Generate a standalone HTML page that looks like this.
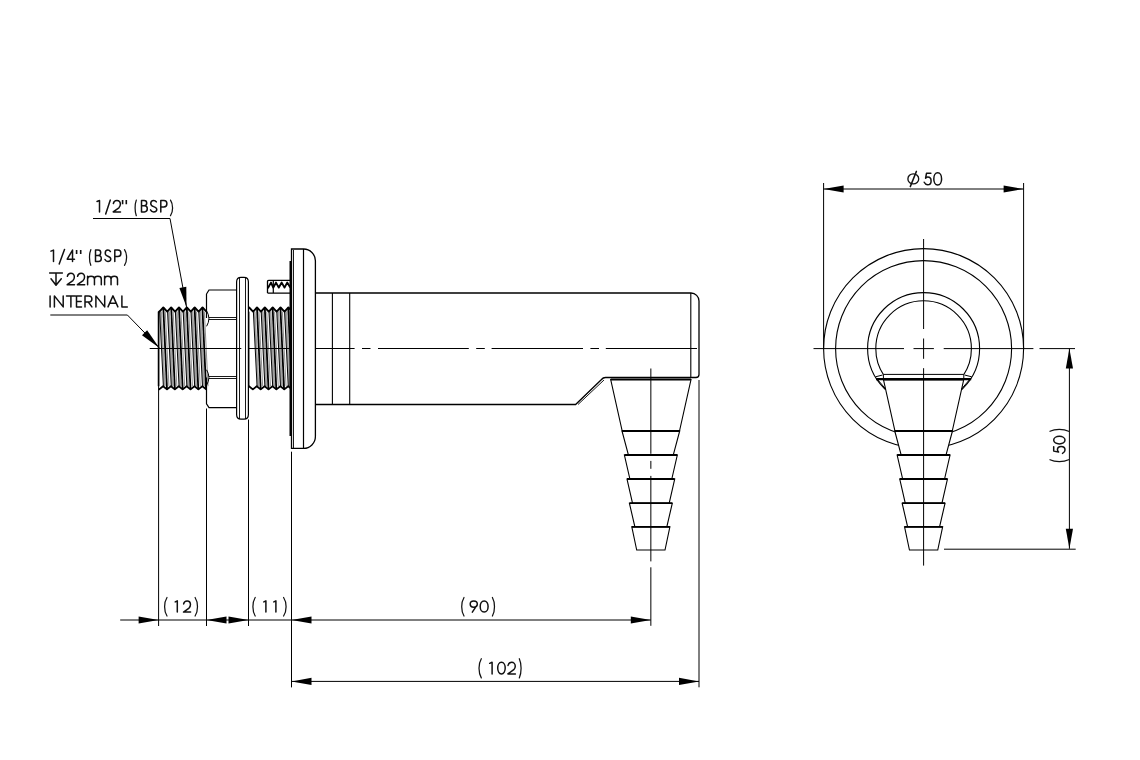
<!DOCTYPE html>
<html><head><meta charset="utf-8"><style>
html,body{margin:0;padding:0;background:#fff;width:1140px;height:760px;overflow:hidden}
svg{display:block}
text{font-family:"Liberation Sans",sans-serif;fill:#111}
</style></head><body>
<svg width="1140" height="760" viewBox="0 0 1140 760">
<line x1="362" y1="348.5" x2="370.5" y2="348.5" stroke="#000" stroke-width="1" />
<line x1="378" y1="348.5" x2="468.8" y2="348.5" stroke="#000" stroke-width="1" />
<line x1="476.2" y1="348.5" x2="484.8" y2="348.5" stroke="#000" stroke-width="1" />
<line x1="491.6" y1="348.5" x2="583" y2="348.5" stroke="#000" stroke-width="1" />
<line x1="590.4" y1="348.5" x2="599" y2="348.5" stroke="#000" stroke-width="1" />
<line x1="605.8" y1="348.5" x2="697" y2="348.5" stroke="#000" stroke-width="1" />
<path d="M160.00,311.6 L163.70,386.2 L165.59,386.2 L161.89,311.6 Z" fill="#a0a0a0"/>
<path d="M167.85,311.6 L171.55,386.2 L173.44,386.2 L169.74,311.6 Z" fill="#a0a0a0"/>
<path d="M167.90,311.6 L171.60,386.2 L173.49,386.2 L169.79,311.6 Z" fill="#a0a0a0"/>
<path d="M175.75,311.6 L179.45,386.2 L181.34,386.2 L177.64,311.6 Z" fill="#a0a0a0"/>
<path d="M175.70,311.6 L179.40,386.2 L181.29,386.2 L177.59,311.6 Z" fill="#a0a0a0"/>
<path d="M183.55,311.6 L187.25,386.2 L189.14,386.2 L185.44,311.6 Z" fill="#a0a0a0"/>
<path d="M183.50,311.6 L187.20,386.2 L189.09,386.2 L185.39,311.6 Z" fill="#a0a0a0"/>
<path d="M191.35,311.6 L195.05,386.2 L196.94,386.2 L193.24,311.6 Z" fill="#a0a0a0"/>
<path d="M191.30,311.6 L195.00,386.2 L196.89,386.2 L193.19,311.6 Z" fill="#a0a0a0"/>
<path d="M199.15,311.6 L202.85,386.2 L204.74,386.2 L201.04,311.6 Z" fill="#a0a0a0"/>
<path d="M199.10,311.6 L202.80,386.2 L204.69,386.2 L200.99,311.6 Z" fill="#a0a0a0"/>
<path d="M158.60,310.79 L159.38,311.60 L163.30,307.50 L167.23,311.60 L171.15,307.50 L175.08,311.60 L179.00,307.50 L182.93,311.60 L186.85,307.50 L190.78,311.60 L194.70,307.50 L198.63,311.60 L202.55,307.50 L206.48,311.60 L206.50,311.57" stroke="#000" stroke-width="1.9" fill="none" stroke-linejoin="round"/>
<path d="M158.60,388.95 L159.15,389.40 L163.08,386.20 L167.00,389.40 L170.93,386.20 L174.85,389.40 L178.78,386.20 L182.70,389.40 L186.62,386.20 L190.55,389.40 L194.48,386.20 L198.40,389.40 L202.33,386.20 L206.25,389.40 L206.50,389.20" stroke="#000" stroke-width="1.8" fill="none" stroke-linejoin="round"/>
<line x1="163.30" y1="307.5" x2="167.00" y2="389.4" stroke="#000" stroke-width="1.8" />
<line x1="159.68" y1="311.6" x2="163.38" y2="386.2" stroke="#000" stroke-width="1.0" />
<line x1="165.26" y1="311.6" x2="168.96" y2="386.2" stroke="#444" stroke-width="0.6" />
<line x1="171.20" y1="307.5" x2="174.90" y2="389.4" stroke="#000" stroke-width="1.8" />
<line x1="167.57" y1="311.6" x2="171.27" y2="386.2" stroke="#000" stroke-width="1.0" />
<line x1="173.16" y1="311.6" x2="176.86" y2="386.2" stroke="#444" stroke-width="0.6" />
<line x1="179.00" y1="307.5" x2="182.70" y2="389.4" stroke="#000" stroke-width="1.8" />
<line x1="175.38" y1="311.6" x2="179.07" y2="386.2" stroke="#000" stroke-width="1.0" />
<line x1="180.96" y1="311.6" x2="184.66" y2="386.2" stroke="#444" stroke-width="0.6" />
<line x1="186.80" y1="307.5" x2="190.50" y2="389.4" stroke="#000" stroke-width="1.8" />
<line x1="183.18" y1="311.6" x2="186.88" y2="386.2" stroke="#000" stroke-width="1.0" />
<line x1="188.76" y1="311.6" x2="192.46" y2="386.2" stroke="#444" stroke-width="0.6" />
<line x1="194.60" y1="307.5" x2="198.30" y2="389.4" stroke="#000" stroke-width="1.8" />
<line x1="190.97" y1="311.6" x2="194.67" y2="386.2" stroke="#000" stroke-width="1.0" />
<line x1="196.56" y1="311.6" x2="200.26" y2="386.2" stroke="#444" stroke-width="0.6" />
<line x1="202.40" y1="307.5" x2="206.10" y2="389.4" stroke="#000" stroke-width="1.8" />
<line x1="198.78" y1="311.6" x2="202.47" y2="386.2" stroke="#000" stroke-width="1.0" />
<line x1="204.36" y1="311.6" x2="208.06" y2="386.2" stroke="#444" stroke-width="0.6" />
<line x1="158.6" y1="311.6" x2="158.6" y2="386.2" stroke="#000" stroke-width="1.7" />
<path d="M253.70,311.6 L257.40,386.2 L259.29,386.2 L255.59,311.6 Z" fill="#a0a0a0"/>
<path d="M261.55,311.6 L265.25,386.2 L267.14,386.2 L263.44,311.6 Z" fill="#a0a0a0"/>
<path d="M261.50,311.6 L265.20,386.2 L267.09,386.2 L263.39,311.6 Z" fill="#a0a0a0"/>
<path d="M269.35,311.6 L273.05,386.2 L274.94,386.2 L271.24,311.6 Z" fill="#a0a0a0"/>
<path d="M269.30,311.6 L273.00,386.2 L274.89,386.2 L271.19,311.6 Z" fill="#a0a0a0"/>
<path d="M277.15,311.6 L280.85,386.2 L282.74,386.2 L279.04,311.6 Z" fill="#a0a0a0"/>
<path d="M277.10,311.6 L280.80,386.2 L282.69,386.2 L278.99,311.6 Z" fill="#a0a0a0"/>
<path d="M284.95,311.6 L288.65,386.2 L290.54,386.2 L286.84,311.6 Z" fill="#a0a0a0"/>
<path d="M284.90,311.6 L288.60,386.2 L290.49,386.2 L286.79,311.6 Z" fill="#a0a0a0"/>
<path d="M248.60,308.07 L249.15,307.50 L253.08,311.60 L257.00,307.50 L260.93,311.60 L264.85,307.50 L268.78,311.60 L272.70,307.50 L276.62,311.60 L280.55,307.50 L284.48,311.60 L288.40,307.50 L290.50,309.69" stroke="#000" stroke-width="1.9" fill="none" stroke-linejoin="round"/>
<path d="M248.60,386.46 L248.93,386.20 L252.85,389.40 L256.77,386.20 L260.70,389.40 L264.62,386.20 L268.55,389.40 L272.48,386.20 L276.40,389.40 L280.32,386.20 L284.25,389.40 L288.18,386.20 L290.50,388.10" stroke="#000" stroke-width="1.8" fill="none" stroke-linejoin="round"/>
<line x1="257.00" y1="307.5" x2="260.70" y2="389.4" stroke="#000" stroke-width="1.8" />
<line x1="253.38" y1="311.6" x2="257.07" y2="386.2" stroke="#000" stroke-width="1.0" />
<line x1="258.96" y1="311.6" x2="262.66" y2="386.2" stroke="#444" stroke-width="0.6" />
<line x1="264.80" y1="307.5" x2="268.50" y2="389.4" stroke="#000" stroke-width="1.8" />
<line x1="261.18" y1="311.6" x2="264.88" y2="386.2" stroke="#000" stroke-width="1.0" />
<line x1="266.76" y1="311.6" x2="270.46" y2="386.2" stroke="#444" stroke-width="0.6" />
<line x1="272.60" y1="307.5" x2="276.30" y2="389.4" stroke="#000" stroke-width="1.8" />
<line x1="268.98" y1="311.6" x2="272.68" y2="386.2" stroke="#000" stroke-width="1.0" />
<line x1="274.56" y1="311.6" x2="278.26" y2="386.2" stroke="#444" stroke-width="0.6" />
<line x1="280.40" y1="307.5" x2="284.10" y2="389.4" stroke="#000" stroke-width="1.8" />
<line x1="276.77" y1="311.6" x2="280.47" y2="386.2" stroke="#000" stroke-width="1.0" />
<line x1="282.36" y1="311.6" x2="286.06" y2="386.2" stroke="#444" stroke-width="0.6" />
<line x1="288.20" y1="307.5" x2="291.90" y2="389.4" stroke="#000" stroke-width="1.8" />
<line x1="284.57" y1="311.6" x2="288.27" y2="386.2" stroke="#000" stroke-width="1.0" />
<line x1="290.16" y1="311.6" x2="293.86" y2="386.2" stroke="#444" stroke-width="0.6" />
<line x1="248.6" y1="311.6" x2="248.6" y2="386.2" stroke="#000" stroke-width="1.7" />
<line x1="149.7" y1="348.5" x2="241.3" y2="348.5" stroke="#000" stroke-width="1" />
<line x1="248.5" y1="348.5" x2="354.6" y2="348.5" stroke="#000" stroke-width="1" />
<path d="M206.5,294 L209,290 L236.5,290 M206.5,294 L206.5,318 M206.5,377.5 L206.5,403.7 L209,407.6 L236.5,407.6" stroke="#000" stroke-width="1.2" fill="none" />
<line x1="209" y1="317.5" x2="236.5" y2="317.5" stroke="#000" stroke-width="0.9" />
<line x1="209" y1="319.5" x2="236.5" y2="319.5" stroke="#000" stroke-width="0.9" />
<line x1="209" y1="376.5" x2="236.5" y2="376.5" stroke="#000" stroke-width="0.9" />
<line x1="209" y1="378.5" x2="236.5" y2="378.5" stroke="#000" stroke-width="0.9" />
<path d="M206.6,310.9 Q211.2,318.5 206.6,326.3 M206.6,369.8 Q211.2,377.5 206.6,385.2" stroke="#000" stroke-width="1.0" fill="none" />
<path d="M236.6,414.5 L236.6,282 Q236.6,277.3 241,277.3 L244,277.3 Q248.4,277.3 248.4,282 L248.4,414.5 Q248.4,419.2 244,419.2 L241,419.2 Q236.6,419.2 236.6,414.5 Z" stroke="#000" stroke-width="1.2" fill="#fff" />
<line x1="239.5" y1="277.3" x2="239.5" y2="419.1" stroke="#000" stroke-width="0.9" />
<line x1="245.5" y1="277.3" x2="245.5" y2="419.1" stroke="#000" stroke-width="0.9" />
<line x1="236.6" y1="348.5" x2="241.3" y2="348.5" stroke="#000" stroke-width="1" />
<path d="M267.5,293.1 L267.5,281.2 Q267.6,280.3 269,280.3 L290.5,280.3 M267.5,293.1 L290.5,293.1" stroke="#000" stroke-width="1.3" fill="none" />
<line x1="273.3" y1="280.5" x2="273.3" y2="293.1" stroke="#000" stroke-width="1.2" />
<path d="M267.8,288.2 L271,282.6 L273.3,287.6 L276,282.6 L278.8,287.6 L281.7,282.6 L284.5,287.6 L287.2,282.6 L290.3,287.5" stroke="#000" stroke-width="1.9" fill="none" stroke-linejoin="round"/>
<path d="M291.5,448.4 L291.5,249 L303.5,249 A11.8,11.8 0 0 1 315.4,260.8 L315.4,436.6 A11.8,11.8 0 0 1 303.5,448.4 Z" stroke="#000" stroke-width="1.3" fill="#fff" />
<line x1="293.5" y1="250" x2="293.5" y2="448" stroke="#000" stroke-width="0.9" />
<line x1="303.5" y1="249" x2="303.5" y2="448.4" stroke="#000" stroke-width="1.2" />
<line x1="290.3" y1="261" x2="290.3" y2="436" stroke="#000" stroke-width="1.6" />
<path d="M315.4,293 L691,293 A8,8 0 0 1 699,301 L699,374.5 A3,3 0 0 1 696,377.5 L605.5,377.5 Q603,377.5 601.5,379.5 L575.6,404.5 L315.4,404.5" stroke="#000" stroke-width="1.3" fill="none" />
<path d="M604,380 L578,404.5" stroke="#000" stroke-width="0.9" fill="none" />
<line x1="332.4" y1="293" x2="332.4" y2="404.5" stroke="#000" stroke-width="1.1" />
<line x1="349.7" y1="293" x2="349.7" y2="404.5" stroke="#000" stroke-width="1.1" />
<line x1="690.8" y1="293" x2="690.8" y2="377.5" stroke="#000" stroke-width="1.1" />
<path d="M610.70,379.5 L691.00,379.5 L679.50,431.0 L622.20,431.0 Z" stroke="#000" stroke-width="1.1" fill="#fff" />
<path d="M622.00,431.0 L679.70,431.0 L673.30,455.0 L628.40,455.0 Z" stroke="#000" stroke-width="1.1" fill="#fff" />
<path d="M624.40,455.0 L677.30,455.0 L671.80,479.0 L629.90,479.0 Z" stroke="#000" stroke-width="1.1" fill="#fff" />
<path d="M627.00,479.0 L674.70,479.0 L669.20,503.2 L632.50,503.2 Z" stroke="#000" stroke-width="1.1" fill="#fff" />
<path d="M629.40,503.2 L672.30,503.2 L666.80,526.9 L634.90,526.9 Z" stroke="#000" stroke-width="1.1" fill="#fff" />
<path d="M631.80,526.9 L669.90,526.9 L665.00,550.0 L636.70,550.0 Z" stroke="#000" stroke-width="1.1" fill="#fff" />
<line x1="622.00" y1="431.0" x2="679.70" y2="431.0" stroke="#000" stroke-width="2.0" />
<line x1="624.40" y1="455.0" x2="677.30" y2="455.0" stroke="#000" stroke-width="2.0" />
<line x1="627.00" y1="479.0" x2="674.70" y2="479.0" stroke="#000" stroke-width="2.0" />
<line x1="629.40" y1="503.2" x2="672.30" y2="503.2" stroke="#000" stroke-width="1.8" />
<line x1="631.80" y1="526.9" x2="669.90" y2="526.9" stroke="#000" stroke-width="1.8" />
<line x1="610.7" y1="379.6" x2="691.0" y2="379.6" stroke="#000" stroke-width="2.0" />
<line x1="650.85" y1="368.5" x2="650.85" y2="453.8" stroke="#000" stroke-width="1" />
<line x1="650.85" y1="460.9" x2="650.85" y2="468.8" stroke="#000" stroke-width="1" />
<line x1="650.85" y1="475.9" x2="650.85" y2="561.4" stroke="#000" stroke-width="1" />
<line x1="650.85" y1="567.3" x2="650.85" y2="625.8" stroke="#000" stroke-width="1" />
<line x1="158.6" y1="386" x2="158.6" y2="626" stroke="#000" stroke-width="1" />
<line x1="206.5" y1="408.5" x2="206.5" y2="626" stroke="#000" stroke-width="1" />
<line x1="248.5" y1="419.5" x2="248.5" y2="626" stroke="#000" stroke-width="1" />
<line x1="291.5" y1="451.7" x2="291.5" y2="687.4" stroke="#000" stroke-width="1" />
<line x1="699" y1="380" x2="699" y2="687.3" stroke="#000" stroke-width="1" />
<line x1="120.2" y1="620" x2="650.8" y2="620" stroke="#000" stroke-width="1" />
<path d="M158.60,620.00 L138.60,623.60 L138.60,616.40 Z" fill="#000"/>
<path d="M206.50,620.00 L226.50,616.40 L226.50,623.60 Z" fill="#000"/>
<path d="M248.50,620.00 L228.50,623.60 L228.50,616.40 Z" fill="#000"/>
<path d="M291.50,620.00 L311.50,616.40 L311.50,623.60 Z" fill="#000"/>
<path d="M650.80,620.00 L630.80,623.60 L630.80,616.40 Z" fill="#000"/>
<line x1="291.5" y1="681.4" x2="699" y2="681.4" stroke="#000" stroke-width="1" />
<path d="M291.50,681.40 L311.50,677.80 L311.50,685.00 Z" fill="#000"/>
<path d="M699.00,681.40 L679.00,685.00 L679.00,677.80 Z" fill="#000"/>
<line x1="93" y1="218.5" x2="170" y2="218.5" stroke="#000" stroke-width="1" />
<line x1="170" y1="218.5" x2="186.5" y2="307" stroke="#000" stroke-width="1" />
<path d="M186.50,307.00 L179.41,287.97 L186.30,286.70 Z" fill="#000"/>
<line x1="50.3" y1="315" x2="127.4" y2="315" stroke="#000" stroke-width="1" />
<line x1="127.4" y1="315" x2="159.2" y2="347.7" stroke="#000" stroke-width="1" />
<path d="M159.20,347.70 L141.98,335.15 L147.14,330.14 Z" fill="#000"/>
<defs><clipPath id="c56"><rect x="800" y="200" width="250" height="190"/></clipPath><clipPath id="c47"><rect x="800" y="200" width="250" height="174.4"/></clipPath></defs>
<circle cx="923.6" cy="348.6" r="100" stroke="#000" stroke-width="1.1" fill="none"/>
<circle cx="923.6" cy="348.6" r="88" stroke="#000" stroke-width="1.1" fill="none"/>
<circle cx="923.6" cy="348.6" r="56" stroke="#000" stroke-width="1.1" fill="none" clip-path="url(#c56)"/>
<circle cx="923.6" cy="348.6" r="47.8" stroke="#000" stroke-width="1.1" fill="none" clip-path="url(#c47)"/>
<path d="M883.45,379.5 L963.75,379.5 L952.25,431.0 L894.95,431.0 Z" stroke="#000" stroke-width="1.1" fill="#fff" />
<path d="M894.75,431.0 L952.45,431.0 L946.05,455.0 L901.15,455.0 Z" stroke="#000" stroke-width="1.1" fill="#fff" />
<path d="M897.15,455.0 L950.05,455.0 L944.55,479.0 L902.65,479.0 Z" stroke="#000" stroke-width="1.1" fill="#fff" />
<path d="M899.75,479.0 L947.45,479.0 L941.95,503.2 L905.25,503.2 Z" stroke="#000" stroke-width="1.1" fill="#fff" />
<path d="M902.15,503.2 L945.05,503.2 L939.55,526.9 L907.65,526.9 Z" stroke="#000" stroke-width="1.1" fill="#fff" />
<path d="M904.55,526.9 L942.65,526.9 L937.75,550.0 L909.45,550.0 Z" stroke="#000" stroke-width="1.1" fill="#fff" />
<line x1="894.75" y1="431.0" x2="952.45" y2="431.0" stroke="#000" stroke-width="2.0" />
<line x1="897.15" y1="455.0" x2="950.05" y2="455.0" stroke="#000" stroke-width="2.0" />
<line x1="899.75" y1="479.0" x2="947.45" y2="479.0" stroke="#000" stroke-width="2.0" />
<line x1="902.15" y1="503.2" x2="945.05" y2="503.2" stroke="#000" stroke-width="1.8" />
<line x1="904.55" y1="526.9" x2="942.65" y2="526.9" stroke="#000" stroke-width="1.8" />
<line x1="883.45" y1="379.6" x2="963.75" y2="379.6" stroke="#000" stroke-width="2.0" />
<line x1="883.4" y1="374.4" x2="963.8" y2="374.4" stroke="#000" stroke-width="1.0" />
<line x1="883.4" y1="374.4" x2="883.4" y2="379.2" stroke="#000" stroke-width="1.0" />
<line x1="963.8" y1="374.4" x2="963.8" y2="379.2" stroke="#000" stroke-width="1.0" />
<line x1="876" y1="379.2" x2="971.2" y2="379.2" stroke="#000" stroke-width="2.2" />
<path d="M875.5,376.8 L882.6,375 M876.5,378.3 L885.6,388.9 M971.7,376.8 L964.6,375 M970.7,378.3 L961.6,388.9" stroke="#000" stroke-width="1.0" fill="none" />
<line x1="813.5" y1="348.6" x2="904" y2="348.6" stroke="#000" stroke-width="1" />
<line x1="913.5" y1="348.6" x2="933.9" y2="348.6" stroke="#000" stroke-width="1" />
<line x1="943.7" y1="348.6" x2="1033.4" y2="348.6" stroke="#000" stroke-width="1" />
<line x1="1039.5" y1="348.6" x2="1075" y2="348.6" stroke="#000" stroke-width="1" />
<line x1="923.6" y1="239" x2="923.6" y2="329" stroke="#000" stroke-width="1" />
<line x1="923.6" y1="338.5" x2="923.6" y2="358.8" stroke="#000" stroke-width="1" />
<line x1="923.6" y1="368.2" x2="923.6" y2="565.6" stroke="#000" stroke-width="1" />
<line x1="823.6" y1="183" x2="823.6" y2="348.6" stroke="#000" stroke-width="1" />
<line x1="1023.6" y1="183" x2="1023.6" y2="348.6" stroke="#000" stroke-width="1" />
<line x1="823.6" y1="189" x2="1023.6" y2="189" stroke="#000" stroke-width="1" />
<path d="M823.60,189.00 L843.60,185.40 L843.60,192.60 Z" fill="#000"/>
<path d="M1023.60,189.00 L1003.60,192.60 L1003.60,185.40 Z" fill="#000"/>
<line x1="1069.4" y1="348.6" x2="1069.4" y2="548.8" stroke="#000" stroke-width="1" />
<path d="M1069.40,348.60 L1073.00,368.60 L1065.80,368.60 Z" fill="#000"/>
<path d="M1069.40,548.80 L1065.80,528.80 L1073.00,528.80 Z" fill="#000"/>
<line x1="944" y1="549.2" x2="1075.7" y2="549.2" stroke="#000" stroke-width="1" />
<path d="M 122.60,200.10 L 122.60,204.23 M 126.30,200.10 L 126.30,204.23" stroke="#111" stroke-width="1.6" fill="none" />
<path d="M 97.00,201.53 L 99.50,200.50 L 99.50,211.90 M 105.70,214.10 L 110.30,200.10 M 113.35,203.58 C 113.78,201.41 115.24,200.50 116.85,200.50 C 118.89,200.50 120.35,202.21 120.35,204.26 C 120.35,205.86 119.77,206.88 118.89,207.80 L 113.20,211.90 L 120.50,211.90 M 141.50,200.50 L 141.50,211.90 L 144.40,211.90 C 146.26,211.90 147.30,210.53 147.30,208.82 C 147.30,207.11 146.26,205.86 144.40,205.86 L 141.50,205.86 M 144.11,205.86 C 145.68,205.86 146.72,204.72 146.72,203.12 C 146.72,201.53 145.68,200.50 144.11,200.50 L 141.50,200.50 M 156.36,201.98 C 155.73,200.96 154.78,200.50 153.65,200.50 C 152.01,200.50 150.75,201.87 150.75,203.58 C 150.75,205.63 152.26,206.20 153.65,206.66 C 155.41,207.23 156.80,208.02 156.80,209.51 C 156.80,211.10 155.41,211.90 153.65,211.90 C 152.26,211.90 151.13,211.10 150.50,209.85 M 160.80,211.90 L 160.80,200.50 L 163.85,200.50 C 165.80,200.50 166.90,201.98 166.90,203.69 C 166.90,205.52 165.80,206.88 163.85,206.88 L 160.80,206.88" stroke="#111" stroke-width="1.5" fill="none" stroke-linecap="round" stroke-linejoin="round" />
<path d="M 136.30,200.10 C 134.70,204.31 134.70,211.49 136.30,215.70 M 170.50,200.10 C 173.29,204.31 173.29,211.49 170.50,215.70" stroke="#111" stroke-width="1.25" fill="none" stroke-linecap="round" />
<path d="M 76.60,250.00 L 76.60,254.03 M 80.70,250.00 L 80.70,254.03" stroke="#111" stroke-width="1.6" fill="none" />
<path d="M 51.00,251.13 L 53.50,250.10 L 53.50,261.50 M 59.20,264.00 L 64.50,249.40 M 72.53,261.50 L 72.53,250.10 L 67.20,259.22 L 74.50,259.22 M 95.50,250.10 L 95.50,261.50 L 98.40,261.50 C 100.26,261.50 101.30,260.13 101.30,258.42 C 101.30,256.71 100.26,255.46 98.40,255.46 L 95.50,255.46 M 98.11,255.46 C 99.68,255.46 100.72,254.32 100.72,252.72 C 100.72,251.13 99.68,250.10 98.11,250.10 L 95.50,250.10 M 110.39,251.58 C 109.81,250.56 108.94,250.10 107.90,250.10 C 106.39,250.10 105.23,251.47 105.23,253.18 C 105.23,255.23 106.62,255.80 107.90,256.26 C 109.52,256.83 110.80,257.62 110.80,259.11 C 110.80,260.70 109.52,261.50 107.90,261.50 C 106.62,261.50 105.58,260.70 105.00,259.45 M 114.80,261.50 L 114.80,250.10 L 117.85,250.10 C 119.80,250.10 120.90,251.58 120.90,253.29 C 120.90,255.12 119.80,256.48 117.85,256.48 L 114.80,256.48" stroke="#111" stroke-width="1.5" fill="none" stroke-linecap="round" stroke-linejoin="round" />
<path d="M 90.80,249.70 C 89.07,253.91 89.07,261.09 90.80,265.30 M 124.50,249.70 C 127.29,253.91 127.29,261.09 124.50,265.30" stroke="#111" stroke-width="1.25" fill="none" stroke-linecap="round" />
<path d="M 67.35,276.31 C 67.78,274.12 69.24,273.20 70.85,273.20 C 72.89,273.20 74.35,274.93 74.35,277.00 C 74.35,278.60 73.77,279.64 72.89,280.56 L 67.20,284.70 L 74.50,284.70 M 77.55,276.31 C 77.98,274.12 79.44,273.20 81.05,273.20 C 83.09,273.20 84.55,274.93 84.55,277.00 C 84.55,278.60 83.97,279.64 83.09,280.56 L 77.40,284.70 L 84.70,284.70 M 87.60,284.70 L 87.60,276.31 M 87.60,278.95 C 87.60,277.22 88.97,276.31 91.02,276.31 C 93.08,276.31 94.45,277.22 94.45,278.95 L 94.45,284.70 M 94.45,278.95 C 94.45,277.22 95.82,276.31 97.88,276.31 C 99.93,276.31 101.30,277.22 101.30,278.95 L 101.30,284.70 M 104.60,284.70 L 104.60,276.31 M 104.60,278.95 C 104.60,277.22 105.89,276.31 107.82,276.31 C 109.76,276.31 111.05,277.22 111.05,278.95 L 111.05,284.70 M 111.05,278.95 C 111.05,277.22 112.34,276.31 114.28,276.31 C 116.21,276.31 117.50,277.22 117.50,278.95 L 117.50,284.70 M49.6,273 L62.4,273 M56,273 L56,285.3 M51,278.8 L56,285.3 L61.3,278.8" stroke="#111" stroke-width="1.5" fill="none" stroke-linecap="round" stroke-linejoin="round" />
<path d="M 50.10,295.90 L 50.10,306.90 M 54.40,306.90 L 54.40,295.90 L 63.20,306.90 L 63.20,295.90 M 66.50,295.90 L 75.30,295.90 M 70.90,295.90 L 70.90,306.90 M 81.50,295.90 L 76.50,295.90 L 76.50,306.90 L 81.50,306.90 M 76.50,301.40 L 81.15,301.40 M 85.00,306.90 L 85.00,295.90 L 88.45,295.90 C 90.66,295.90 91.90,297.33 91.90,298.98 C 91.90,300.74 90.66,302.06 88.45,302.06 L 85.00,302.06 M 88.31,302.06 L 91.90,306.90 M 95.90,306.90 L 95.90,295.90 L 104.70,306.90 L 104.70,295.90 M 108.00,306.90 L 112.95,295.90 L 117.90,306.90 M 110.08,303.16 L 115.82,303.16 M 121.90,295.90 L 121.90,306.90 L 127.30,306.90" stroke="#111" stroke-width="1.5" fill="none" stroke-linecap="round" stroke-linejoin="round" />
<path d="M 175.20,601.91 L 177.30,600.90 L 177.30,612.10 M 183.64,603.92 C 184.07,601.80 185.49,600.90 187.05,600.90 C 189.04,600.90 190.46,602.58 190.46,604.60 C 190.46,606.16 189.89,607.17 189.04,608.07 L 183.50,612.10 L 190.60,612.10" stroke="#111" stroke-width="1.5" fill="none" stroke-linecap="round" stroke-linejoin="round" />
<path d="M 167.00,597.50 C 163.81,602.50 163.81,611.00 167.00,616.00 M 195.10,597.50 C 198.29,602.50 198.29,611.00 195.10,616.00" stroke="#111" stroke-width="1.25" fill="none" stroke-linecap="round" />
<path d="M 263.80,601.91 L 265.90,600.90 L 265.90,612.10 M 273.80,601.91 L 275.90,600.90 L 275.90,612.10" stroke="#111" stroke-width="1.5" fill="none" stroke-linecap="round" stroke-linejoin="round" />
<path d="M 255.20,597.50 C 252.14,602.50 252.14,611.00 255.20,616.00 M 283.60,597.50 C 286.93,602.50 286.93,611.00 283.60,616.00" stroke="#111" stroke-width="1.25" fill="none" stroke-linecap="round" />
<path d="M 473.75,600.90 C 475.88,600.90 477.30,602.24 477.30,604.04 C 477.30,605.83 475.88,607.17 473.75,607.17 C 471.62,607.17 470.20,605.83 470.20,604.04 C 470.20,602.24 471.62,600.90 473.75,600.90 Z M 477.02,605.16 L 472.33,612.10 M 484.15,600.90 C 486.68,600.90 488.10,603.70 488.10,606.50 C 488.10,609.30 486.68,612.10 484.15,612.10 C 481.62,612.10 480.20,609.30 480.20,606.50 C 480.20,603.70 481.62,600.90 484.15,600.90 Z" stroke="#111" stroke-width="1.5" fill="none" stroke-linecap="round" stroke-linejoin="round" />
<path d="M 464.00,597.50 C 460.94,602.50 460.94,611.00 464.00,616.00 M 492.40,597.50 C 495.19,602.50 495.19,611.00 492.40,616.00" stroke="#111" stroke-width="1.25" fill="none" stroke-linecap="round" />
<path d="M 489.70,663.34 L 492.10,662.30 L 492.10,673.90 M 501.45,662.30 C 503.85,662.30 505.20,665.20 505.20,668.10 C 505.20,671.00 503.85,673.90 501.45,673.90 C 499.05,673.90 497.70,671.00 497.70,668.10 C 497.70,665.20 499.05,662.30 501.45,662.30 Z M 508.05,665.43 C 508.50,663.23 510.00,662.30 511.65,662.30 C 513.75,662.30 515.25,664.04 515.25,666.13 C 515.25,667.75 514.65,668.80 513.75,669.72 L 507.90,673.90 L 515.40,673.90" stroke="#111" stroke-width="1.5" fill="none" stroke-linecap="round" stroke-linejoin="round" />
<path d="M 481.30,658.70 C 478.24,663.88 478.24,672.72 481.30,677.90 M 519.30,658.70 C 521.69,663.88 521.69,672.72 519.30,677.90" stroke="#111" stroke-width="1.25" fill="none" stroke-linecap="round" />
<path d="M 930.89,173.30 L 926.48,173.30 L 925.58,178.25 C 926.27,177.56 926.96,177.09 927.79,177.09 C 929.72,177.09 931.10,178.82 931.10,180.89 C 931.10,183.19 929.72,184.80 927.65,184.80 C 926.27,184.80 924.89,183.65 924.20,182.27 M 937.70,172.80 C 940.20,172.80 941.60,175.85 941.60,178.90 C 941.60,181.95 940.20,185.00 937.70,185.00 C 935.20,185.00 933.80,181.95 933.80,178.90 C 933.80,175.85 935.20,172.80 937.70,172.80 Z M916.4,171.4 L910.3,186.6" stroke="#111" stroke-width="1.5" fill="none" stroke-linecap="round" stroke-linejoin="round" />
<ellipse cx="913.3" cy="178.9" rx="5.4" ry="5.0" stroke="#111" stroke-width="1.35" fill="none"/>
<path d="M -446.71,1053.70 L -451.12,1053.70 L -452.02,1058.56 C -451.33,1057.88 -450.64,1057.43 -449.81,1057.43 C -447.88,1057.43 -446.50,1059.12 -446.50,1061.16 C -446.50,1063.42 -447.88,1065.00 -449.95,1065.00 C -451.33,1065.00 -452.71,1063.87 -453.40,1062.51 M -440.10,1053.70 C -437.67,1053.70 -436.30,1056.53 -436.30,1059.35 C -436.30,1062.17 -437.67,1065.00 -440.10,1065.00 C -442.53,1065.00 -443.90,1062.17 -443.90,1059.35 C -443.90,1056.53 -442.53,1053.70 -440.10,1053.70 Z" stroke="#111" stroke-width="1.5" fill="none" stroke-linecap="round" stroke-linejoin="round" transform="rotate(-90)"/>
<path d="M -459.70,1050.00 C -462.23,1055.02 -462.23,1063.58 -459.70,1068.60 M -431.30,1050.00 C -428.77,1055.02 -428.77,1063.58 -431.30,1068.60" stroke="#111" stroke-width="1.25" fill="none" stroke-linecap="round" transform="rotate(-90)"/>
</svg></body></html>
